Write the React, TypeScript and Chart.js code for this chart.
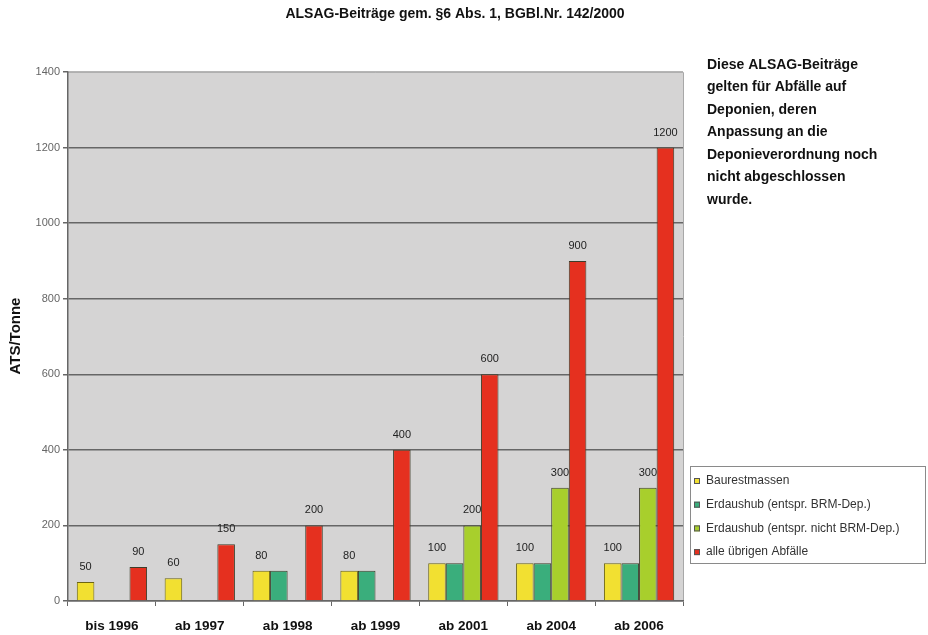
import { useEffect, useRef } from "react";
import { Chart, registerables } from "chart.js";

Chart.register(...registerables);

const categories = ["bis 1996", "ab 1997", "ab 1998", "ab 1999", "ab 2001", "ab 2004", "ab 2006"];
const baurestmassen = [50, 60, 80, 80, 100, 100, 100];
const erdaushubBRM = [null, null, 80, 80, 100, 100, 100];
const erdaushubNichtBRM = [null, null, null, null, 200, 300, 300];
const uebrigeAbfaelle = [90, 150, 200, 400, 600, 900, 1200];
const seriesNames = [
  "Baurestmassen",
  "Erdaushub (entspr. BRM-Dep.)",
  "Erdaushub (entspr. nicht BRM-Dep.)",
  "alle übrigen Abfälle",
];
const seriesColors = ["#f2e031", "#3aae7c", "#a8cf2c", "#e5301f"];
const labeledSeries = [0, 2, 3];
const yMax = 1400;
const yStep = 200;
const chartTitle = "ALSAG-Beiträge gem. §6 Abs. 1, BGBl.Nr. 142/2000";
const yAxisTitle = "ATS/Tonne";
const noteLines = [
  "Diese ALSAG-Beiträge",
  "gelten für Abfälle auf",
  "Deponien, deren",
  "Anpassung an die",
  "Deponieverordnung noch",
  "nicht abgeschlossen",
  "wurde.",
];

const FONT = "'Liberation Sans', Arial, sans-serif";

const decorPlugin = {
  id: "decor",
  beforeDraw(chart: any) {
    const { ctx, chartArea } = chart;
    ctx.save();
    ctx.fillStyle = "#ffffff";
    ctx.fillRect(0, 0, chart.width, chart.height);
    ctx.fillStyle = "#d5d4d4";
    ctx.fillRect(chartArea.left, chartArea.top, chartArea.right - chartArea.left, chartArea.bottom - chartArea.top);
    ctx.strokeStyle = "#a8a8a8";
    ctx.lineWidth = 1;
    ctx.beginPath();
    ctx.moveTo(chartArea.left, chartArea.top + 0.5);
    ctx.lineTo(chartArea.right + 0.5, chartArea.top + 0.5);
    ctx.lineTo(chartArea.right + 0.5, chartArea.bottom);
    ctx.stroke();
    ctx.restore();
  },
  afterDraw(chart: any) {
    const { ctx } = chart;
    ctx.save();
    // title
    ctx.fillStyle = "#111";
    ctx.font = `bold 14px ${FONT}`;
    ctx.textAlign = "center";
    ctx.textBaseline = "middle";
    ctx.fillText(chartTitle, 455, 14);
    // y axis title
    ctx.save();
    ctx.translate(16, 336);
    ctx.rotate(-Math.PI / 2);
    ctx.font = `bold 15px ${FONT}`;
    ctx.fillText(yAxisTitle, 0, 0);
    ctx.restore();
    // note
    ctx.textAlign = "left";
    ctx.font = `bold 14px ${FONT}`;
    noteLines.forEach((l, i) => ctx.fillText(l, 707, 65 + i * 22.5));
    // legend
    const lx = 690, ly = 466, lw = 235, lh = 97;
    ctx.fillStyle = "#ffffff";
    ctx.fillRect(lx, ly, lw, lh);
    ctx.strokeStyle = "#8a8a8a";
    ctx.lineWidth = 1;
    ctx.strokeRect(lx + 0.5, ly + 0.5, lw, lh);
    ctx.font = `12px ${FONT}`;
    seriesNames.forEach((n, i) => {
      const y = 481 + i * 23.7;
      ctx.fillStyle = seriesColors[i];
      ctx.fillRect(694, y - 3, 6, 6);
      ctx.strokeStyle = "#555";
      ctx.strokeRect(694.5, y - 2.5, 5, 5);
      ctx.fillStyle = "#333";
      ctx.fillText(n, 706, y);
    });
    ctx.restore();
  },
  afterDatasetsDraw(chart: any) {
    const { ctx } = chart;
    ctx.save();
    ctx.font = `11px ${FONT}`;
    ctx.fillStyle = "#222";
    ctx.textAlign = "center";
    ctx.textBaseline = "middle";
    labeledSeries.forEach((di) => {
      const meta = chart.getDatasetMeta(di);
      const data = chart.data.datasets[di].data;
      meta.data.forEach((el: any, i: number) => {
        const v = data[i];
        if (v === null || v === undefined) return;
        ctx.fillText(String(v), el.x, el.y - 15);
      });
    });
    ctx.restore();
  },
};

export default function App() {
  const ref = useRef<HTMLCanvasElement>(null);
  useEffect(() => {
    const seriesData = [baurestmassen, erdaushubBRM, erdaushubNichtBRM, uebrigeAbfaelle];
    const chart = new Chart(ref.current!, {
      type: "bar",
      data: {
        labels: categories,
        datasets: seriesData.map((d, i) => ({
          label: seriesNames[i],
          data: d,
          backgroundColor: seriesColors[i],
          borderColor: i === 0 ? "#6d6512" : "#3d3d2a",
          borderWidth: 1,
          barPercentage: 1,
          categoryPercentage: 0.8,
        })),
      },
      options: {
        responsive: false,
        animation: false,
        layout: { padding: { top: 72, right: 245, left: 0, bottom: 0 } },
        plugins: { legend: { display: false }, tooltip: { enabled: false }, title: { display: false } },
        scales: {
          x: {
            offset: true,
            grid: { display: true, drawOnChartArea: false, offset: true, tickLength: 5, color: "#666" },
            border: { color: "#666", width: 1.5 },
            ticks: { color: "#111", font: { family: FONT, size: 13.5, weight: "bold" }, padding: 12 },
            afterFit(s: any) { s.height = 34; },
          },
          y: {
            min: 0,
            max: yMax,
            ticks: {
              stepSize: yStep,
              color: "#666",
              font: { family: FONT, size: 11 },
              padding: 3,
              callback: (v: any) => String(v),
            },
            grid: {
              tickLength: 5,
              lineWidth: 1.5,
              color: (c: any) => (c.tick && c.tick.value === yMax ? "#b5b5b5" : "#666"),
              tickColor: "#666",
            },
            border: { color: "#666", width: 1.5 },
            afterFit(s: any) { s.width = 68; },
          },
        },
      },
      plugins: [decorPlugin],
    } as any);
    return () => chart.destroy();
  }, []);
  return (
    <div style={{ position: "absolute", left: 0, top: 0, width: 928, height: 635 }}>
      <canvas ref={ref} width={928} height={635} />
    </div>
  );
}
